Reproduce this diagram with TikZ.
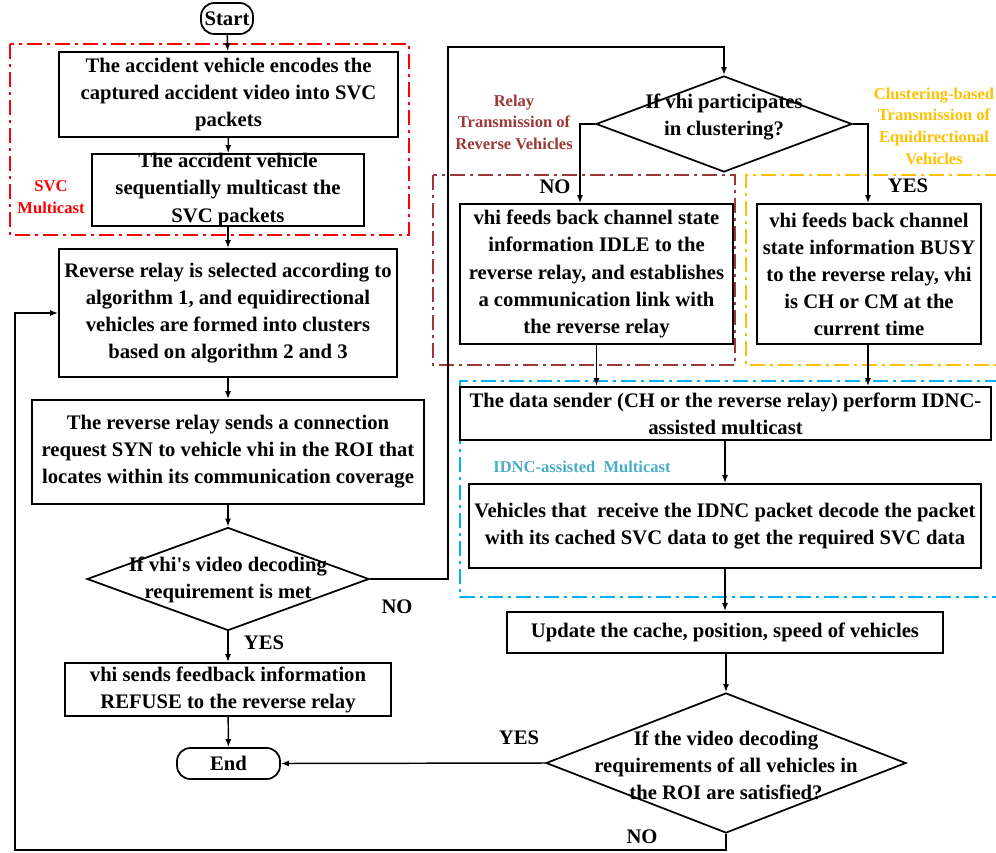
\documentclass[tikz,border=0pt]{standalone}
\usepackage{fontspec}
\setmainfont{Liberation Serif}
\usetikzlibrary{shapes.geometric,arrows.meta,calc}
\definecolor{svcred}{RGB}{255,0,0}
\definecolor{relaybrown}{RGB}{156,56,56}
\definecolor{clustgold}{RGB}{255,192,0}
\definecolor{idnccyan}{RGB}{0,176,240}
\definecolor{idnctext}{RGB}{75,172,198}
\begin{document}
\begin{tikzpicture}[x=0.75pt,y=-0.75pt,
  font=\fontsize{15.5}{20.3}\selectfont\bfseries,
  box/.style 2 args={draw, line width=1.3pt, inner sep=0pt, align=center,
      minimum width=#1*0.75pt, minimum height=#2*0.75pt},
  term/.style 2 args={box={#1}{#2}, rounded corners=10pt},
  dia/.style 2 args={draw, line width=1.3pt, shape=diamond, inner sep=0pt,
      minimum width=#1*0.75pt, minimum height=#2*0.75pt},
  txt/.style={align=center, inner sep=0pt},
  lbl/.style={align=center, inner sep=0pt, font=\fontsize{12.4}{16.2}\selectfont\bfseries},
  arr/.style={line width=1.1pt, -{Latex[length=6pt,width=4.5pt]}},
  grp/.style={line width=1.1pt, dash pattern=on 11pt off 4pt on 2pt off 4pt}]
\useasboundingbox (0,0) rectangle (996,853);

% group frames
\draw[grp, svcred] (10,44) rectangle (409,235);
\draw[grp, relaybrown] (433,175) rectangle (735,365);
\draw[grp, clustgold] (1000,175) -- (746,175) -- (746,365) -- (1000,365);
\draw[grp, idnccyan] (1000,381) -- (460,381) -- (460,597) -- (1000,597);

% group labels
\node[lbl, text=svcred] (lsvc) at (51,197) {SVC\\Multicast};
\node[lbl, text=relaybrown] (lrelay) at (514,122) {Relay\\Transmission of\\Reverse Vehicles};
\node[lbl, text=clustgold] (lclust) at (934,126) {Clustering-based\\Transmission of\\Equidirectional\\Vehicles};
\node[lbl, text=idnctext] (lidnc) at (582,467) {IDNC-assisted\ \ Multicast};

% left column
\node[term={52}{31}] (start) at (227,18.5) {Start};
\node[box={339}{85}] (b1) at (228.5,94.5) {The accident vehicle encodes the\\captured accident video into SVC\\packets};
\node[box={272}{72}] (b2) at (228,190) {};
\node[txt] (t2) at (228,190) {The accident vehicle\\sequentially multicast the\\SVC packets};
\node[box={338}{128}] (b3) at (228,313) {Reverse relay is selected according to\\algorithm 1, and equidirectional\\vehicles are formed into clusters\\based on algorithm 2 and 3};
\node[box={392}{104}] (b4) at (228,452) {The reverse relay sends a connection\\request SYN to vehicle vhi in the ROI that\\locates within its communication coverage};
\node[dia={282}{103}] (d1) at (228,579) {};
\node[txt] (td1) at (228,579.5) {If vhi\textquotesingle s video decoding\\requirement is met};
\node[box={326}{53}] (b5) at (228,689.5) {vhi sends feedback information\\REFUSE to the reverse relay};
\node[term={103}{31}] (end) at (228.5,763.5) {End};

% right column
\node[dia={256}{96}] (d2) at (724,124) {};
\node[txt] (td2) at (724,117) {If vhi participates\\in clustering?};
\node[box={273}{140}] (b6) at (596.5,274) {vhi feeds back channel state\\information IDLE to the\\reverse relay, and establishes\\a communication link with\\the reverse relay};
\node[box={224}{140}] (b7) at (869,274) {vhi feeds back channel\\state information BUSY\\to the reverse relay, vhi\\is CH or CM at the\\current time};
\node[box={531}{53}] (b8) at (725.5,413.5) {The data sender (CH or the reverse relay) perform IDNC-\\assisted multicast};
\node[box={512}{84}] (b9) at (725,526) {Vehicles that\ \ receive the IDNC packet decode the packet\\with its cached SVC data to get the required SVC data};
\node[box={436}{41}] (b10) at (725,632.5) {Update the cache, position, speed of vehicles};
\node[dia={360}{140}] (d3) at (726,763) {};
\node[txt] (td3) at (726,765) {If the video decoding\\requirements of all vehicles in\\the ROI are satisfied?};

% branch labels
\node[txt] (no1) at (397,607) {NO};
\node[txt] (yes1) at (264,643) {YES};
\node[txt] (no2) at (555,187) {NO};
\node[txt] (yes2) at (908,186) {YES};
\node[txt] (yes3) at (519,738) {YES};
\node[txt] (no3) at (642,837) {NO};

% helper coordinates
\coordinate (c1) at (448,47);
\coordinate (c2) at (15,850);

% connectors
\draw[arr] (start) -- (b1);
\draw[arr] (b1) -- (b2);
\draw[arr] (b2) -- (b3);
\draw[arr] (b3) -- (b4);
\draw[arr] (b4) -- (d1);
\draw[arr] (d1) -- (b5);
\draw[arr] (b5) -- (end);
\draw[arr] (d1.east) -| (c1) -| (d2.north);
\draw[arr] (d2.west) -| ([xshift=-12.4pt]b6.north);
\draw[arr] (d2.east) -| ([xshift=-0.75pt]b7.north);
\draw[arr] (b6.south) -- (b6.south |- b8.north);
\draw[arr] ([xshift=-0.75pt]b7.south) -- ([xshift=-0.75pt]b7.south |- b8.north);
\draw[arr] (b8.south -| b9.north) -- (b9.north);
\draw[arr] (b9) -- (b10);
\draw[arr] (b10.south -| d3.north) -- (d3.north);
\draw[arr] (d3.west) -- (end.east);
\draw[arr] (d3.south) |- (c2) |- (b3.west);
\end{tikzpicture}
\end{document}
